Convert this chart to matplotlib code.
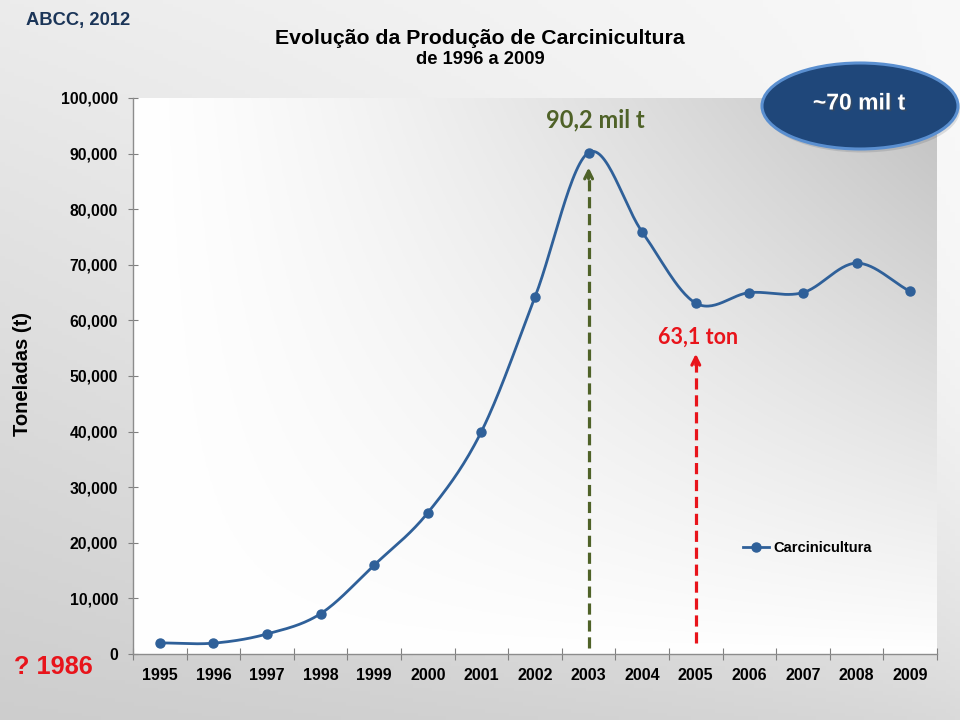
import numpy as np
import matplotlib
matplotlib.use("Agg")
import matplotlib.pyplot as plt
from matplotlib.patches import Ellipse
import matplotlib.patheffects as pe

# ---- data ----
years = ["1995", "1996", "1997", "1998", "1999", "2000", "2001", "2002",
         "2003", "2004", "2005", "2006", "2007", "2008", "2009"]
production = [2000, 1950, 3600, 7250, 16000, 25400, 40000, 64200,
              90190, 75900, 63100, 65000, 65000, 70300, 65200]
yticks = [0, 10000, 20000, 30000, 40000, 50000, 60000, 70000, 80000, 90000, 100000]
peak_year_idx = 8
low_year_idx = 10
peak_arrow = (1000, 88000)
low_arrow = (2000, 54500)

plt.rcParams['font.family'] = ['Liberation Sans', 'DejaVu Sans']

fig = plt.figure(figsize=(9.6, 7.2), dpi=100)

# figure background gradient
bg = fig.add_axes([0, 0, 1, 1], zorder=-10)
bg.axis('off')
yy, xx = np.mgrid[0:1:200j, 0:1:200j]  # yy: 0 top -> 1 bottom
g = 0.925 - 0.12 * yy * (1 - xx) ** 0.8 + 0.05 * xx - 0.12 * xx * yy ** 2.5
g = np.clip(g, 0, 1)
bg.imshow(np.dstack([g, g, g]), extent=[0, 1, 0, 1], aspect='auto', origin='upper')
bg.set_xlim(0, 1)
bg.set_ylim(0, 1)

ax = fig.add_axes([133 / 960, 1 - 654 / 720, (937 - 133) / 960, (654 - 98) / 720])

# plot-area gradient
py, px = np.mgrid[0:1:200j, 0:1:200j]  # py: 0 top -> 1 bottom
f = (px ** 1.3) * ((1 - py) ** 0.9)
pg = 1.0 - 0.24 * f
pg = np.clip(pg, 0, 1)
ax.imshow(np.dstack([pg, pg, pg]), extent=[0, 1, 0, 1], transform=ax.transAxes,
          aspect='auto', origin='upper', zorder=0)

x = np.arange(len(years))


def catmull(xs, ys, n=30):
    xs = np.asarray(xs, float)
    ys = np.asarray(ys, float)
    P = np.column_stack([xs, ys])
    P = np.vstack([2 * P[0] - P[1], P, 2 * P[-1] - P[-2]])
    out = []
    for i in range(1, len(P) - 2):
        p0, p1, p2, p3 = P[i - 1], P[i], P[i + 1], P[i + 2]
        t = np.linspace(0, 1, n, endpoint=False)[:, None]
        seg = 0.5 * ((2 * p1) + (-p0 + p2) * t + (2 * p0 - 5 * p1 + 4 * p2 - p3) * t ** 2
                     + (-p0 + 3 * p1 - 3 * p2 + p3) * t ** 3)
        out.append(seg)
    out.append(P[-2][None, :])
    out = np.vstack(out)
    return out[:, 0], out[:, 1]


line_color = '#2F6099'
sx, sy = catmull(x, production)
ax.plot(sx, sy, color=line_color, lw=2.0, zorder=3, solid_capstyle='round')
ax.plot(x, production, 'o', color=line_color, ms=6.5, zorder=4)

# legend proxy
ax.plot([], [], '-o', color=line_color, lw=2.0, ms=6.5, label='Carcinicultura')
leg = ax.legend(loc='upper left', bbox_to_anchor=((737 - 133) / 804, 1 - (535 - 98) / 556),
                frameon=False, handlelength=1.8, handletextpad=0.3,
                prop={'size': 10.6, 'weight': 'bold'}, borderaxespad=0)

# arrows
green = '#4F6228'
red = '#E8141B'
ax.plot([peak_year_idx, peak_year_idx], [peak_arrow[0], peak_arrow[1] - 1500], color=green,
        lw=2.3, dashes=(3.5, 1.8), zorder=2)
ax.annotate('', xy=(peak_year_idx, peak_arrow[1]), xytext=(peak_year_idx, peak_arrow[1] - 3000),
            arrowprops=dict(arrowstyle='->', color=green, lw=2.3, mutation_scale=14), zorder=2)
ax.plot([low_year_idx, low_year_idx], [low_arrow[0], low_arrow[1] - 1500], color=red,
        lw=2.3, dashes=(3.5, 1.8), zorder=2)
ax.annotate('', xy=(low_year_idx, low_arrow[1]), xytext=(low_year_idx, low_arrow[1] - 3000),
            arrowprops=dict(arrowstyle='->', color=red, lw=2.3, mutation_scale=14), zorder=2)

ax.text(peak_year_idx + 0.12, 96000, '90,2 mil t', color=green, fontsize=17,
        fontweight='bold', family=['Lato', 'DejaVu Sans'], ha='center', va='center', zorder=5)
ax.text(low_year_idx + 0.04, 56900, '63,1 ton', color=red, fontsize=15.5,
        fontweight='bold', family=['Lato', 'DejaVu Sans'], ha='center', va='center', zorder=5)

# axes styling
ax.set_xlim(-0.5, len(years) - 0.5)
ax.set_ylim(0, 100000)
ax.set_xticks(np.arange(len(years) + 1) - 0.5)
ax.set_xticklabels([])
ax.set_xticks(x, minor=True)
ax.set_xticklabels(years, minor=True)
ax.tick_params(axis='x', which='minor', length=0, pad=10, labelsize=11.5)
ax.tick_params(axis='x', which='major', direction='inout', length=8, color='#808080')
for lab in ax.get_xticklabels(minor=True):
    lab.set_fontweight('bold')
ax.set_yticks(yticks)
ax.set_yticklabels([f"{v:,}" for v in yticks], fontweight='bold', fontsize=11.3)
ax.tick_params(axis='y', direction='inout', length=7.5, color='#808080', pad=7)
for s in ['top', 'right']:
    ax.spines[s].set_visible(False)
for s in ['left', 'bottom']:
    ax.spines[s].set_color('#8C8C8C')
    ax.spines[s].set_linewidth(1.0)

# figure texts
fig.text(26 / 960, 1 - 20 / 720, 'ABCC, 2012', color='#1B3558', fontsize=13.2,
         fontweight='bold', ha='left', va='center')
fig.text(480 / 960, 1 - 38 / 720, 'Evolução da Produção de Carcinicultura', fontsize=15.3,
         fontweight='bold', ha='center', va='center')
fig.text(480 / 960, 1 - 59 / 720, 'de 1996 a 2009', fontsize=13.2,
         fontweight='bold', ha='center', va='center')
fig.text(23 / 960, 1 - 374 / 720, 'Toneladas (t)', fontsize=14.5, fontweight='bold',
         rotation=90, ha='center', va='center')
fig.text(14 / 960, 1 - 667 / 720, '? 1986', color='#E8141B', fontsize=18.3,
         fontweight='bold', ha='left', va='center')

# ellipse callout
ell = Ellipse((860 / 960, 1 - 106 / 720), 196 / 960, 86 / 720, transform=fig.transFigure,
              facecolor='#1F477A', edgecolor='#5A8FD0', lw=2.2, zorder=20,
              path_effects=[pe.SimplePatchShadow(offset=(1.5, -2.5), alpha=0.12), pe.Normal()])
fig.patches.append(ell)
fig.text(859 / 960, 1 - 103 / 720, '~70 mil t', color='white', fontsize=16.5,
         fontweight='bold', ha='center', va='center', zorder=21,
         path_effects=[pe.withSimplePatchShadow(offset=(1.2, -1.2), alpha=0.45)])

fig.savefig('out.png', dpi=100)
